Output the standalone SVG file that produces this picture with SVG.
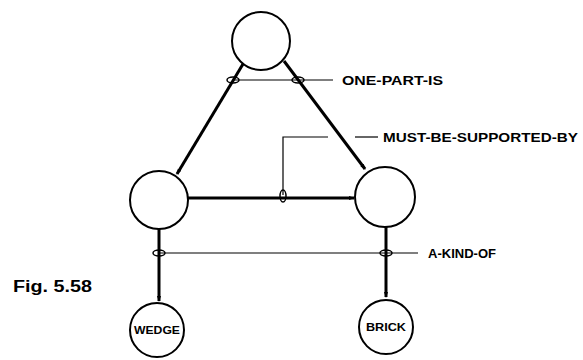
<svg xmlns="http://www.w3.org/2000/svg" width="583" height="360" viewBox="0 0 583 360">
<style>
.node{fill:#fff;stroke:#000;stroke-width:2}
.link{stroke:#000;stroke-width:3;fill:none}
.thin{stroke:#000;stroke-width:1.2;fill:none}
.ring{fill:none;stroke:#000;stroke-width:1.5}
.lbl{font-family:"Liberation Sans",Arial,sans-serif;font-weight:bold;font-size:12px;fill:#000}
.nl{font-family:"Liberation Sans",Arial,sans-serif;font-weight:bold;font-size:11px;fill:#000;text-anchor:middle}
</style>
<defs>
<marker id="ah" markerWidth="6" markerHeight="6" refX="5" refY="3" orient="auto" markerUnits="userSpaceOnUse">
<path d="M0,1 L6,3 L0,5 Z" fill="#000"/>
</marker>
</defs>
<rect width="583" height="360" fill="#fff"/>
<g id="connectors">
<line class="link" x1="243" y1="64" x2="177" y2="174" marker-end="url(#ah)"/>
<line class="link" x1="284" y1="61" x2="365" y2="169" marker-end="url(#ah)"/>
<line class="link" x1="188" y1="198" x2="354" y2="198" marker-end="url(#ah)"/>
<line class="link" x1="159" y1="229" x2="159" y2="301" marker-end="url(#ah)"/>
<line class="link" x1="386" y1="227" x2="386" y2="297" marker-end="url(#ah)"/>
<polyline class="thin" points="233,80 333,80"/>
<ellipse class="ring" cx="233" cy="80" rx="6" ry="3"/>
<ellipse class="ring" cx="298" cy="80" rx="6" ry="3"/>
<polyline class="thin" points="283,195 283,137 328,137"/>
<line class="thin" x1="355" y1="137" x2="378" y2="137"/>
<ellipse class="ring" cx="283" cy="196" rx="3" ry="6"/>
<line class="thin" x1="159" y1="253" x2="418" y2="253"/>
<ellipse class="ring" cx="159" cy="253" rx="6" ry="3"/>
<ellipse class="ring" cx="386" cy="253" rx="6" ry="3"/>
</g>
<g id="top"><circle class="node" cx="261" cy="41" r="29"/></g>
<g id="left"><circle class="node" cx="159" cy="200" r="29"/></g>
<g id="right"><circle class="node" cx="385" cy="197" r="30"/></g>
<g id="wedge"><circle class="node" cx="157" cy="330" r="27"/><text class="nl" x="157" y="334" textLength="46" lengthAdjust="spacingAndGlyphs">WEDGE</text></g>
<g id="brick"><circle class="node" cx="386" cy="327" r="27"/><text class="nl" x="386" y="331" textLength="40" lengthAdjust="spacingAndGlyphs">BRICK</text></g>
<g id="labels">
<text class="lbl" x="342" y="85" textLength="101" lengthAdjust="spacingAndGlyphs">ONE-PART-IS</text>
<text class="lbl" x="383" y="142" textLength="195" lengthAdjust="spacingAndGlyphs">MUST-BE-SUPPORTED-BY</text>
<text class="lbl" x="428" y="258" textLength="68" lengthAdjust="spacingAndGlyphs">A-KIND-OF</text>
<text class="lbl" x="13" y="292" style="font-size:16px" textLength="79" lengthAdjust="spacingAndGlyphs">Fig. 5.58</text>
</g>
</svg>
